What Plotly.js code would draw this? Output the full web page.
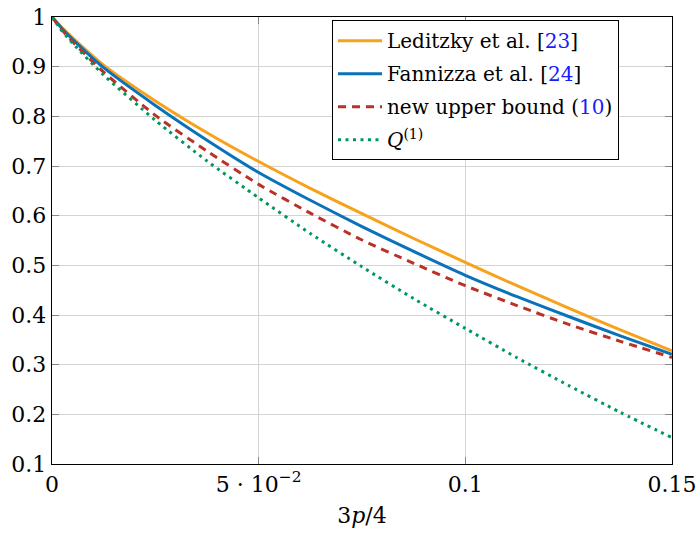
<!DOCTYPE html>
<html>
<head>
<meta charset="utf-8">
<script src="https://cdn.plot.ly/plotly-3.0.1.min.js"></script>
<style>html,body{margin:0;padding:0;background:#fff;}#chart{width:700px;height:539px;}</style>
</head>
<body>
<div id="chart"></div>
<script>
// x values (3p/4)
const xVals = [0, 0.0025, 0.005, 0.0125, 0.025, 0.0375, 0.05, 0.0625, 0.075, 0.0875, 0.1, 0.1125, 0.125, 0.1375, 0.15];
// Leditzky et al. [23]
const leditzky = [1, 0.978, 0.958, 0.903, 0.831, 0.767, 0.709, 0.655, 0.604, 0.554, 0.506, 0.459, 0.414, 0.370, 0.328];
// Fannizza et al. [24]
const fannizza = [1, 0.976, 0.955, 0.898, 0.822, 0.752, 0.687, 0.631, 0.578, 0.528, 0.480, 0.437, 0.397, 0.358, 0.321];
// new upper bound (10)
const newBound = [1, 0.973, 0.950, 0.889, 0.802, 0.730, 0.663, 0.605, 0.551, 0.504, 0.459, 0.419, 0.381, 0.347, 0.3145];
// Q^(1)
const q1 = [1, 0.971, 0.947, 0.883, 0.792, 0.710, 0.636, 0.564, 0.497, 0.433, 0.373, 0.314, 0.258, 0.204, 0.153];

const xTickVals = [0, 0.05, 0.1, 0.15];
const xTickText = ['0', '5 · 10<sup>−2</sup>', '0.1', '0.15'];
const yTickVals = [0.1, 0.2, 0.3, 0.4, 0.5, 0.6, 0.7, 0.8, 0.9, 1];
const yTickText = ['0.1', '0.2', '0.3', '0.4', '0.5', '0.6', '0.7', '0.8', '0.9', '1'];

const names = [
  'Leditzky et al. [<span style="color:#1a1aff">23</span>]',
  'Fannizza et al. [<span style="color:#1a1aff">24</span>]',
  'new upper bound (<span style="color:#1a1aff">10</span>)',
  '<i>Q</i><sup>(1)</sup>'
];

const serif = 'DejaVu Serif';

const traces = [
  {x: xVals, y: leditzky, name: names[0], legendgroup: 'a', mode: 'lines', line: {color: '#F7A21B', width: 3, shape: 'spline', smoothing: 0.6}},
  {x: xVals, y: fannizza, name: names[1], legendgroup: 'b', mode: 'lines', line: {color: '#0A72BA', width: 3, shape: 'spline', smoothing: 0.6}},
  {x: xVals, y: newBound, name: names[2], legendgroup: 'c', mode: 'lines', line: {color: '#BA3127', width: 3, dash: '8px,6px', shape: 'spline', smoothing: 0.6}},
  {x: xVals, y: q1, name: names[3], legendgroup: 'd', mode: 'lines', line: {color: '#00985A', width: 3, dash: '3px,4.5px', shape: 'spline', smoothing: 0.6}}
];

const layout = {
  width: 700, height: 539,
  margin: {l: 52, r: 28, t: 17, b: 75},
  paper_bgcolor: '#fff', plot_bgcolor: '#fff',
  font: {family: serif, color: '#000'},
  showlegend: true,
  legend: {
    x: 0.4516, y: 0.993, xanchor: 'left', yanchor: 'top',
    bgcolor: '#fff', bordercolor: '#000', borderwidth: 1,
    font: {family: serif, size: 20, color: '#000'},
    itemwidth: 44,
    tracegroupgap: 4
  },
  xaxis: {
    range: [0, 0.15],
    tickvals: xTickVals, ticktext: xTickText,
    showgrid: true, gridcolor: '#d4d4d4', gridwidth: 1,
    zeroline: false,
    showline: true, linecolor: '#000', linewidth: 1.3, mirror: 'ticks',
    ticks: 'inside', ticklen: 7, tickcolor: '#888', tickwidth: 1,
    tickfont: {family: serif, size: 22, color: '#000'},
    title: {text: '3<i>p</i>/4', font: {family: serif, size: 22, color: '#000'}, standoff: 12},
    automargin: false
  },
  yaxis: {
    range: [0.1, 1],
    tickvals: yTickVals, ticktext: yTickText,
    showgrid: true, gridcolor: '#d4d4d4', gridwidth: 1,
    zeroline: false,
    showline: true, linecolor: '#000', linewidth: 1.3, mirror: 'ticks',
    ticks: 'inside', ticklen: 7, tickcolor: '#888', tickwidth: 1,
    tickfont: {family: serif, size: 22, color: '#000'},
    automargin: false
  }
};

Plotly.newPlot('chart', traces, layout, {displayModeBar: false, staticPlot: true});
</script>
</body>
</html>
